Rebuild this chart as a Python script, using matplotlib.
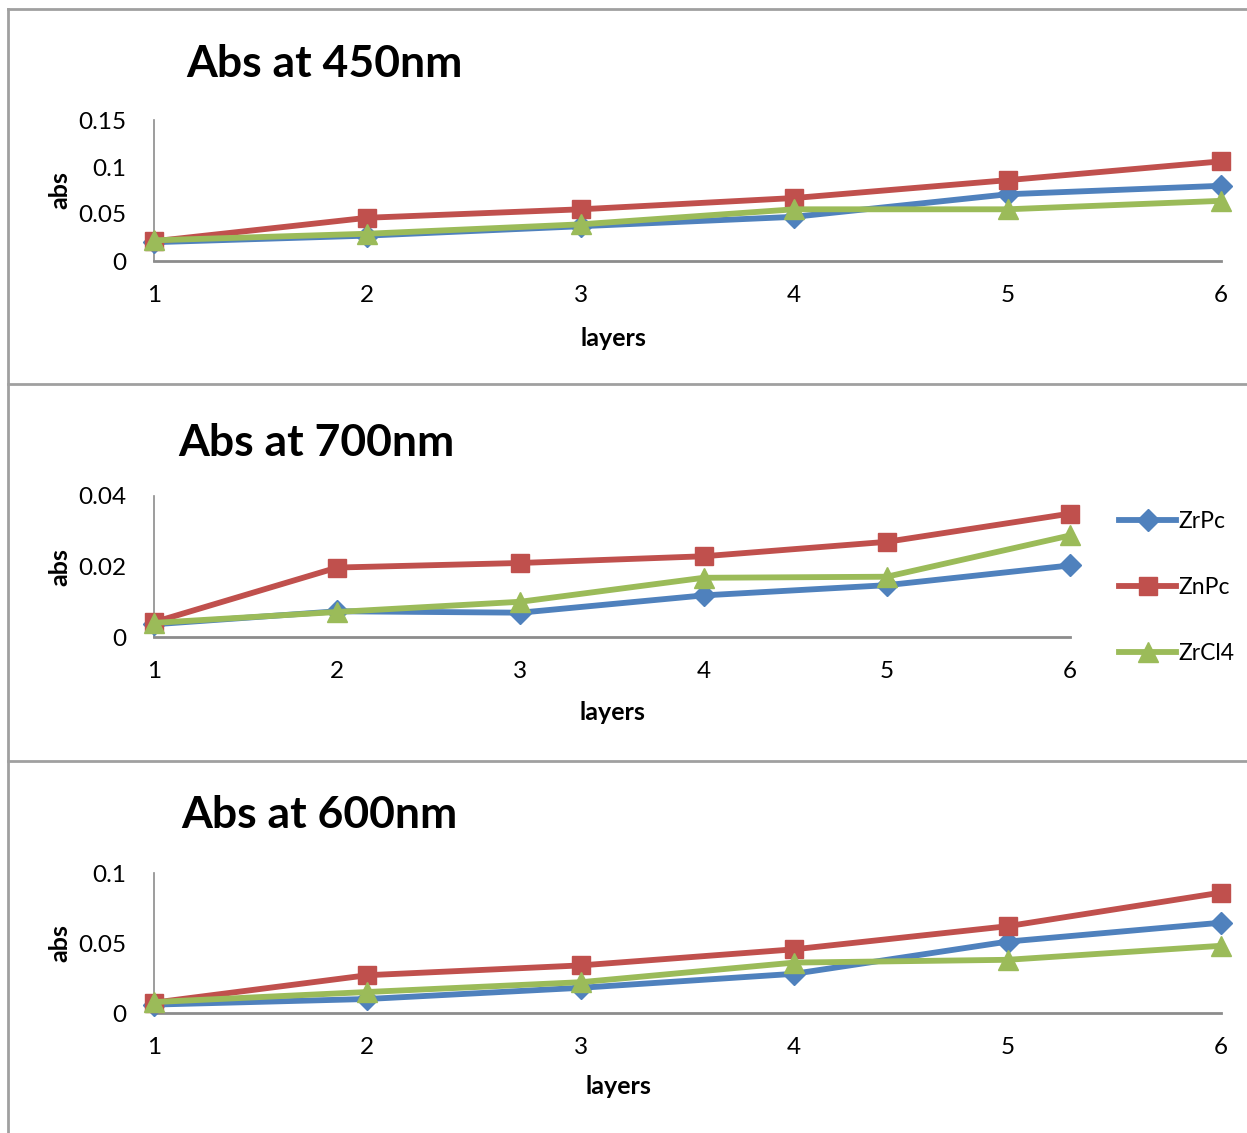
import matplotlib
matplotlib.use("Agg")
import matplotlib.pyplot as plt
from matplotlib.lines import Line2D

plt.rcParams['font.family'] = ['Lato', 'DejaVu Sans']

layers = [1, 2, 3, 4, 5, 6]
series_names = ["ZrPc", "ZnPc", "ZrCl4"]

abs450_zrpc = [0.020, 0.027, 0.037, 0.047, 0.071, 0.080]
abs450_znpc = [0.021, 0.046, 0.055, 0.067, 0.086, 0.106]
abs450_zrcl4 = [0.022, 0.029, 0.039, 0.055, 0.055, 0.064]

abs700_zrpc = [0.0036, 0.0073, 0.0069, 0.0118, 0.0147, 0.0203]
abs700_znpc = [0.0042, 0.0197, 0.0210, 0.0229, 0.0270, 0.0350]
abs700_zrcl4 = [0.0040, 0.0071, 0.0100, 0.0168, 0.0171, 0.0288]

abs600_zrpc = [0.006, 0.010, 0.018, 0.028, 0.051, 0.0645]
abs600_znpc = [0.0074, 0.027, 0.034, 0.0455, 0.062, 0.086]
abs600_zrcl4 = [0.0078, 0.015, 0.022, 0.036, 0.038, 0.048]

titles = ["Abs at 450nm", "Abs at 700nm", "Abs at 600nm"]
yticks = [[0, 0.05, 0.1, 0.15], [0, 0.02, 0.04], [0, 0.05, 0.1]]
yticklabels = [["0", "0.05", "0.1", "0.15"], ["0", "0.02", "0.04"], ["0", "0.05", "0.1"]]

colors = ["#4F81BD", "#C0504D", "#9BBB59"]
markers = ["D", "s", "^"]
msizes = [11, 13, 14]

W, H = 1247, 1133
fig = plt.figure(figsize=(W / 100, H / 100), dpi=100)

def fx(px):
    return px / W

def fy(py):
    return 1 - py / H

# panel geometry in pixels: left, right, bottom(y=0), top(ymax)
panels = [
    (154, 1221, 261, 120, 0.15, (324, 64), (60, 190), (613, 338)),
    (154, 1070, 637, 496, 0.04, (316, 443), (60, 567), (612, 712)),
    (154, 1221, 1013, 873, 0.10, (319, 815), (60, 943), (618, 1086)),
]
data = [
    [abs450_zrpc, abs450_znpc, abs450_zrcl4],
    [abs700_zrpc, abs700_znpc, abs700_zrcl4],
    [abs600_zrpc, abs600_znpc, abs600_zrcl4],
]

grey = "#8c8c8c"
handles = []
for i, (l, r, b, t, ymax, tpos, ypos, xpos) in enumerate(panels):
    ax = fig.add_axes([fx(l), fy(b), fx(r - l), (b - t) / H])
    for j in range(3):
        ln, = ax.plot(layers, data[i][j], color=colors[j], lw=4.2, marker=markers[j],
                      ms=msizes[j], clip_on=False, zorder=3 + j, label=series_names[j])
        if i == 1:
            handles.append(ln)
    ax.set_xlim(1, 6)
    ax.set_ylim(0, ymax)
    ax.set_xticks(layers)
    ax.set_xticklabels([str(v) for v in layers])
    ax.set_yticks(yticks[i])
    ax.set_yticklabels(yticklabels[i])
    ax.tick_params(axis='both', length=0, labelsize=17.5)
    ax.tick_params(axis='x', pad=17)
    ax.tick_params(axis='y', pad=20)
    for s in ["top", "right"]:
        ax.spines[s].set_visible(False)
    ax.spines["left"].set_color(grey)
    ax.spines["left"].set_linewidth(1.2)
    ax.spines["bottom"].set_color(grey)
    ax.spines["bottom"].set_linewidth(2)
    fig.text(fx(tpos[0]), fy(tpos[1]), titles[i], fontsize=32, fontweight="bold",
             ha="center", va="center")
    fig.text(fx(ypos[0]), fy(ypos[1]), "abs", fontsize=18, fontweight="bold",
             ha="center", va="center", rotation=90)
    fig.text(fx(xpos[0]), fy(xpos[1]), "layers", fontsize=18, fontweight="bold",
             ha="center", va="center")

fig.legend(handles=handles, labels=series_names, loc="upper left",
           bbox_to_anchor=(fx(1110), fy(502)), frameon=False, fontsize=16.5,
           handlelength=2.5, handletextpad=0.1, labelspacing=1.95, borderaxespad=0)

# outer frame and separators
bc = "#a0a0a0"
fig.add_artist(Line2D([fx(8), fx(8)], [fy(9), 0], color=bc, lw=2, transform=fig.transFigure))
for yy in [9, 384, 761]:
    fig.add_artist(Line2D([fx(8), 1], [fy(yy), fy(yy)], color=bc, lw=2, transform=fig.transFigure))

fig.savefig("out.png", dpi=100)
